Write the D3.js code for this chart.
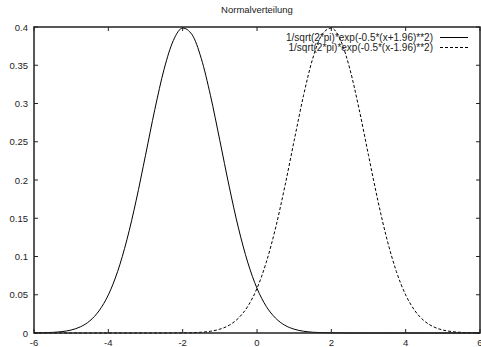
<!DOCTYPE html>
<html>
<head>
<meta charset="utf-8">
<script src="https://cdn.jsdelivr.net/npm/d3@7"></script>
<style>
  body { margin: 0; background: #fff; }
  svg text { font-family: "Liberation Sans", Arial, sans-serif; font-size: 9.5px; fill: #222; }
  svg .legend text { font-size: 10px; }
</style>
</head>
<body>
<svg id="chart" width="481" height="347"></svg>
<script>
// sample positions read along the x axis
const xs = [-6, -5.75, -5.5, -5.25, -5, -4.75, -4.5, -4.25, -4, -3.75, -3.5, -3.25, -3,
  -2.75, -2.5, -2.25, -2, -1.75, -1.5, -1.25, -1, -0.75, -0.5, -0.25, 0,
  0.25, 0.5, 0.75, 1, 1.25, 1.5, 1.75, 2, 2.25, 2.5, 2.75, 3, 3.25, 3.5,
  3.75, 4, 4.25, 4.5, 4.75, 5, 5.25, 5.5, 5.75, 6];

// solid curve, centred left of zero
const leftCurve = [0.0001, 0.0003, 0.0008, 0.0018, 0.0039, 0.0081, 0.0158, 0.0290, 0.0498,
  0.0804, 0.1219, 0.1736, 0.2323, 0.2920, 0.3448, 0.3825, 0.3986, 0.3902, 0.3589,
  0.3101, 0.2516, 0.1919, 0.1374, 0.0925, 0.0584, 0.0347, 0.0194, 0.0101, 0.0050,
  0.0023, 0.0010, 0.0004, 0.0002, 0.0001, 0, 0, 0, 0, 0, 0, 0, 0, 0, 0, 0, 0, 0, 0, 0];

// dashed curve, centred right of zero
const rightCurve = [0, 0, 0, 0, 0, 0, 0, 0, 0, 0, 0, 0, 0, 0, 0,
  0.0001, 0.0002, 0.0004, 0.0010, 0.0023, 0.0050, 0.0101, 0.0194, 0.0347, 0.0584,
  0.0925, 0.1374, 0.1919, 0.2516, 0.3101, 0.3589, 0.3902, 0.3986, 0.3825, 0.3448,
  0.2920, 0.2323, 0.1736, 0.1219, 0.0804, 0.0498, 0.0290, 0.0158, 0.0081, 0.0039,
  0.0018, 0.0008, 0.0003, 0.0001];

const seriesLabels = [
  "1/sqrt(2*pi)*exp(-0.5*(x+1.96)**2)",
  "1/sqrt(2*pi)*exp(-0.5*(x-1.96)**2)"
];
const xTicks = [-6, -4, -2, 0, 2, 4, 6];
const yTicks = [0, 0.05, 0.1, 0.15, 0.2, 0.25, 0.3, 0.35, 0.4];
const title = "Normalverteilung";

const dims = { left: 34, right: 480, top: 27, bottom: 333, tick: 4 };
const svg = d3.select("#chart");

const x = d3.scaleLinear().domain([-6, 6]).range([dims.left, dims.right]);
const y = d3.scaleLinear().domain([0, 0.4]).range([dims.bottom, dims.top]);

// ticks on all four sides, pointing inward
const gTicks = svg.append("g").attr("stroke", "#222").attr("stroke-width", 1);
xTicks.forEach((t) => {
  gTicks.append("line").attr("x1", x(t)).attr("x2", x(t))
    .attr("y1", dims.bottom).attr("y2", dims.bottom - dims.tick);
  gTicks.append("line").attr("x1", x(t)).attr("x2", x(t))
    .attr("y1", dims.top).attr("y2", dims.top + dims.tick);
});
yTicks.forEach((t) => {
  gTicks.append("line").attr("y1", y(t)).attr("y2", y(t))
    .attr("x1", dims.left).attr("x2", dims.left + dims.tick);
  gTicks.append("line").attr("y1", y(t)).attr("y2", y(t))
    .attr("x1", dims.right).attr("x2", dims.right - dims.tick);
});

svg.append("g").selectAll("text").data(xTicks).join("text")
  .attr("x", (d) => x(d)).attr("y", dims.bottom + 12.5)
  .attr("text-anchor", "middle").text((d) => d);

svg.append("g").selectAll("text").data(yTicks).join("text")
  .attr("x", dims.left - 6).attr("y", (d) => y(d) + 3.5)
  .attr("text-anchor", "end").text((d) => d);

svg.append("text").attr("x", 257).attr("y", 13)
  .attr("text-anchor", "middle").text(title);

const line = d3.line()
  .x((d, i) => x(xs[i]))
  .y((d) => y(d))
  .curve(d3.curveMonotoneX);

svg.append("path").datum(leftCurve).attr("d", line)
  .attr("fill", "none").attr("stroke", "#000").attr("stroke-width", 1);
svg.append("path").datum(rightCurve).attr("d", line)
  .attr("fill", "none").attr("stroke", "#000").attr("stroke-width", 1)
  .attr("stroke-dasharray", "3,2");

// legend, top right inside the frame
const legend = svg.append("g").attr("class", "legend");
seriesLabels.forEach((s, i) => {
  const ly = 37.5 + i * 10;
  legend.append("text").attr("x", 433).attr("y", ly + 3)
    .attr("text-anchor", "end").text(s);
  legend.append("line").attr("x1", 440).attr("x2", 468)
    .attr("y1", ly).attr("y2", ly)
    .attr("stroke", "#000").attr("stroke-width", 1)
    .attr("stroke-dasharray", i === 1 ? "3,2" : null);
});

svg.append("rect")
  .attr("x", dims.left).attr("y", dims.top)
  .attr("width", dims.right - dims.left).attr("height", dims.bottom - dims.top)
  .attr("fill", "none").attr("stroke", "#222").attr("stroke-width", 1.5);
</script>
</body>
</html>
